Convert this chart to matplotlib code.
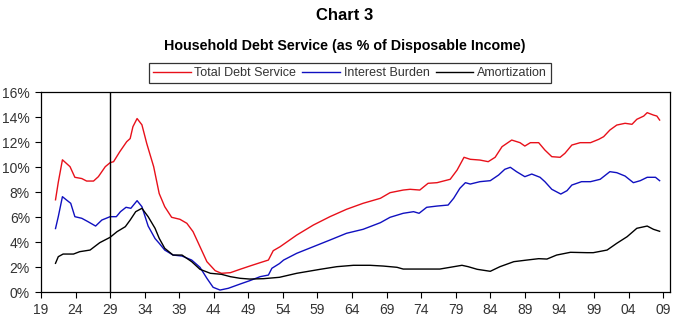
import matplotlib
matplotlib.use("Agg")
import matplotlib.pyplot as plt

plt.rcParams['font.family'] = ['Liberation Sans', 'DejaVu Sans']

# Total Debt Service (% of disposable income)
total_years = [1921.1, 1921.5, 1922.1, 1923.2, 1923.9, 1924.9, 1925.6, 1926.6, 1927.3, 1928.3,
               1929.0, 1929.5, 1930.4, 1931.4, 1931.9, 1932.3, 1932.9, 1933.6, 1934.3, 1935.3,
               1936.1, 1936.9, 1937.9, 1939.1, 1940.1, 1941.0, 1942.0, 1943.0, 1944.2, 1945.1,
               1946.4, 1947.8, 1949.2, 1950.7, 1951.9, 1952.6, 1953.6, 1956.0, 1958.4, 1960.8,
               1963.2, 1965.6, 1968.1, 1969.5, 1971.4, 1972.4, 1973.8, 1975.0, 1976.3, 1978.2,
               1979.2, 1980.2, 1981.1, 1982.5, 1983.7, 1984.7, 1985.7, 1987.1, 1988.3, 1989.0,
               1989.8, 1991.0, 1991.9, 1992.9, 1994.1, 1994.8, 1995.8, 1997.0, 1998.5, 1999.7,
               2000.4, 2001.3, 2002.3, 2003.5, 2004.5, 2005.2, 2006.2, 2006.7, 2007.6, 2008.1,
               2008.5]
total_vals = [7.4, 8.8, 10.6, 10.05, 9.2, 9.1, 8.9, 8.9, 9.25, 10.05,
              10.37, 10.45, 11.25, 12.05, 12.3, 13.25, 13.9, 13.4, 11.9, 10.05,
              7.9, 6.85, 6.0, 5.84, 5.52, 4.85, 3.65, 2.45, 1.73, 1.52,
              1.57, 1.84, 2.1, 2.37, 2.58, 3.33, 3.65, 4.58, 5.38, 6.05,
              6.64, 7.12, 7.52, 7.97, 8.18, 8.24, 8.18, 8.72, 8.77, 9.04,
              9.78, 10.8, 10.64, 10.58, 10.45, 10.8, 11.65, 12.18, 11.97, 11.7,
              11.97, 11.97, 11.38, 10.85, 10.8, 11.12, 11.78, 11.97, 11.97, 12.24,
              12.45, 12.98, 13.38, 13.52, 13.44, 13.84, 14.1, 14.37, 14.18, 14.1,
              13.78]

# Interest Burden
interest_years = [1921.1, 1921.5, 1922.1, 1922.7, 1923.3, 1923.9, 1924.9, 1925.8, 1926.9, 1927.8,
                  1929.0, 1929.9, 1930.5, 1931.3, 1932.0, 1932.9, 1933.6, 1934.5, 1935.5, 1936.1,
                  1936.9, 1938.1, 1939.4, 1940.8, 1942.0, 1943.0, 1943.9, 1944.9, 1946.1, 1947.8,
                  1949.2, 1950.7, 1951.9, 1952.4, 1953.5, 1954.1, 1956.0, 1958.4, 1960.8, 1963.2,
                  1965.6, 1968.1, 1969.5, 1971.4, 1972.9, 1973.7, 1974.8, 1976.3, 1977.9, 1978.7,
                  1979.6, 1980.4, 1981.1, 1982.5, 1984.0, 1985.2, 1986.1, 1986.9, 1987.8, 1989.0,
                  1990.0, 1991.2, 1991.9, 1992.9, 1994.2, 1995.1, 1995.8, 1997.2, 1998.5, 1999.9,
                  2001.3, 2002.3, 2003.5, 2004.7, 2005.7, 2006.7, 2007.9, 2008.5]
interest_vals = [5.1, 6.05, 7.65, 7.38, 7.12, 6.05, 5.92, 5.65, 5.3, 5.78,
                 6.05, 6.05, 6.45, 6.8, 6.72, 7.33, 6.85, 5.3, 4.3, 3.92,
                 3.38, 2.98, 2.9, 2.58, 2.0, 1.12, 0.4, 0.18, 0.32, 0.66,
                 0.93, 1.25, 1.38, 1.92, 2.3, 2.58, 3.12, 3.65, 4.18, 4.72,
                 5.04, 5.57, 6.0, 6.32, 6.45, 6.32, 6.8, 6.9, 6.98, 7.52,
                 8.32, 8.77, 8.66, 8.85, 8.93, 9.38, 9.84, 10.0, 9.65, 9.25,
                 9.46, 9.2, 8.85, 8.24, 7.86, 8.13, 8.58, 8.85, 8.85, 9.04,
                 9.65, 9.57, 9.3, 8.77, 8.93, 9.2, 9.2, 8.93]

# Amortization
amort_years = [1921.1, 1921.5, 1922.2, 1923.7, 1924.6, 1926.1, 1927.5, 1929.0, 1930.0, 1931.2,
               1931.9, 1932.7, 1933.6, 1934.5, 1935.5, 1936.1, 1936.9, 1938.1, 1939.4, 1940.8,
               1942.0, 1943.5, 1945.1, 1946.4, 1947.8, 1949.2, 1951.2, 1953.5, 1956.0, 1959.4,
               1961.8, 1964.2, 1966.6, 1968.5, 1970.5, 1971.4, 1976.7, 1978.2, 1979.9, 1980.8,
               1982.1, 1984.0, 1985.4, 1987.4, 1989.3, 1991.0, 1992.2, 1993.6, 1995.6, 1998.0,
               1998.9, 2000.9, 2002.3, 2003.8, 2005.2, 2006.7, 2007.6, 2008.5]
amort_vals = [2.32, 2.85, 3.06, 3.06, 3.25, 3.38, 3.97, 4.4, 4.85, 5.25,
              5.78, 6.45, 6.72, 6.05, 5.12, 4.32, 3.52, 2.98, 2.98, 2.45,
              1.84, 1.52, 1.44, 1.25, 1.12, 1.06, 1.09, 1.2, 1.52, 1.84,
              2.05, 2.16, 2.16, 2.1, 2.0, 1.86, 1.86, 2.0, 2.16, 2.05,
              1.84, 1.68, 2.05, 2.45, 2.58, 2.69, 2.66, 2.98, 3.2, 3.17,
              3.17, 3.38, 3.92, 4.45, 5.12, 5.3, 5.04, 4.88]

tick_years = list(range(1919, 2010, 5))
tick_labels = ['19', '24', '29', '34', '39', '44', '49', '54', '59', '64',
               '69', '74', '79', '84', '89', '94', '99', '04', '09']
y_ticks = [0, 2, 4, 6, 8, 10, 12, 14, 16]
y_labels = ['0%', '2%', '4%', '6%', '8%', '10%', '12%', '14%', '16%']
crash_year = 1929

fig = plt.figure(figsize=(6.9, 3.3), dpi=100)
ax = fig.add_axes([41 / 690, 1 - 292.3 / 330, (670 - 41) / 690, 200 / 330])

l1, = ax.plot(total_years, total_vals, color='#e8101a', lw=1.0, label='Total Debt Service')
l2, = ax.plot(interest_years, interest_vals, color='#1010c0', lw=1.0, label='Interest Burden')
l3, = ax.plot(amort_years, amort_vals, color='#000000', lw=1.0, label='Amortization')
ax.axvline(crash_year, color='black', lw=1.0)

ax.set_xlim(1919, 2010)
ax.set_ylim(0, 16)
ax.set_xticks(tick_years)
ax.set_xticklabels(tick_labels)
ax.set_yticks(y_ticks)
ax.set_yticklabels(y_labels)
ax.tick_params(direction='out', length=4, width=0.8, labelsize=10, colors='black',
               labelcolor='#333333', pad=4)
for s in ax.spines.values():
    s.set_color('black')
    s.set_linewidth(0.9)

fig.text(0.5, 1 - 15 / 330, 'Chart 3', ha='center', va='center', fontsize=12,
         fontweight='bold')
fig.text(0.5, 1 - 46 / 330, 'Household Debt Service (as % of Disposable Income)',
         ha='center', va='center', fontsize=10.3, fontweight='bold')

leg = fig.legend(handles=[l1, l2, l3], loc='center', bbox_to_anchor=(350 / 690, 1 - 73 / 330),
                 ncol=3, frameon=True, fancybox=False, fontsize=9, handlelength=3.0,
                 handletextpad=0.3, columnspacing=0.5, borderpad=0.3, edgecolor='black')
leg.get_frame().set_linewidth(0.9)
for t in leg.get_texts():
    t.set_color('#333333')

fig.savefig('out.png', dpi=100, facecolor='white')
